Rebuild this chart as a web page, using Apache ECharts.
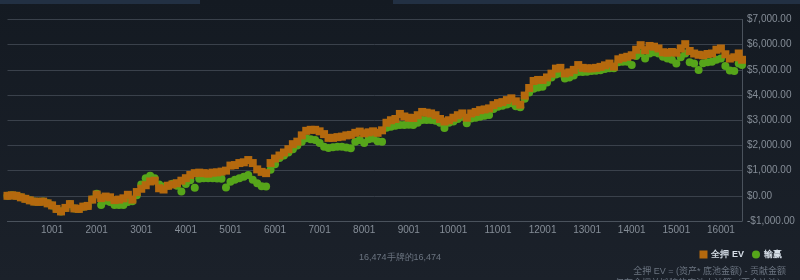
<!DOCTYPE html>
<html><head><meta charset="utf-8">
<script src="https://cdn.jsdelivr.net/npm/echarts@6/dist/echarts.min.js"></script>
<style>html,body{margin:0;padding:0;background:#171d26;}#c{width:800px;height:280px;}</style>
</head><body><div id="c"></div>
<script>
// hand numbers (sampled every 100 hands, plus the final hand)
const hands = [];
for (let h = 1; h <= 16401; h += 100) hands.push(h);
hands.push(16474);

const allInEV = [
0,20,0,-60,-120,-180,-230,-240,-230,-300,
-380,-520,-620,-480,-330,-500,-520,-430,-400,-150,
50,-90,-30,-60,-170,-150,-100,40,-150,150,
280,420,570,600,300,250,400,450,500,600,
700,830,900,920,900,880,920,930,960,1000,
1200,1220,1300,1330,1420,1300,1050,950,900,1300,
1480,1600,1720,1850,2050,2150,2400,2580,2620,2620,
2560,2450,2300,2300,2330,2350,2400,2420,2500,2550,
2480,2520,2560,2500,2600,2900,3000,3050,3250,3150,
3100,3090,3200,3330,3300,3270,3200,3050,2950,3000,
3100,3200,3270,3100,3270,3330,3400,3430,3470,3600,
3680,3720,3800,3870,3750,3620,3980,4280,4560,4600,
4600,4700,4850,5050,5080,4860,4900,5000,5190,5080,
5060,5060,5080,5120,5180,5250,5130,5420,5480,5520,
5580,5800,5980,5780,5950,5920,5850,5700,5680,5710,
5680,5850,6020,5750,5650,5600,5580,5630,5650,5800,
5850,5620,5450,5500,5650,5400
];
const winnings = [
0,20,0,-60,-120,-180,-230,-240,-230,-300,
-380,-520,-620,-480,-330,-500,-520,-430,-400,-150,
80,-360,-200,-250,-360,-360,-360,-250,-220,20,
450,700,800,700,450,370,400,480,400,170,
470,620,320,680,700,700,700,690,680,330,
560,640,700,760,830,640,500,380,370,1030,
1250,1500,1600,1720,1850,2000,2150,2290,2250,2220,
2100,1950,1900,1930,1950,1950,1920,1890,2150,2220,
2100,2250,2280,2170,2150,2700,2740,2780,2810,2810,
2820,2810,2900,3010,3010,3010,2980,2900,2690,2900,
2950,3050,3140,2880,3070,3100,3140,3180,3210,3450,
3540,3580,3630,3670,3560,3520,3850,4100,4250,4300,
4330,4500,4700,4820,4860,4660,4700,4780,4920,4920,
4930,4960,4970,4990,5030,5060,5060,5300,5320,5320,
5190,5550,5660,5450,5650,5700,5650,5520,5450,5400,
5250,5500,5650,5300,5250,5000,5260,5300,5320,5400,
5450,5150,4980,4960,5250,5190
];
const seriesNames = ['全押 EV', '输赢'];
const totalHands = 16474;
const yMin = -1000, yMax = 7000, yStep = 1000;
const xStep = 1000;
const bottomText = '16,474手牌的16,474';
const footnote1 = '全押 EV = (资产* 底池金额) - 贡献金额';
const footnote2 = '仅在全押并摊牌的底池中计算（不含边池）';

const narrow = "'Liberation Sans Narrow','Liberation Sans',Arial,sans-serif";
const chart = echarts.init(document.getElementById('c'), null, {renderer: 'canvas'});
function money(v) {
  const s = Math.abs(v).toLocaleString('en-US', {minimumFractionDigits: 2, maximumFractionDigits: 2});
  return (v < 0 ? '-$' : '$') + s;
}
chart.setOption({
  animation: false,
  backgroundColor: {type: 'linear', x: 0, y: 0, x2: 0, y2: 1,
    colorStops: [{offset: 0, color: '#141a22'}, {offset: 1, color: '#1b212a'}]},
  graphic: [
    {type: 'rect', shape: {x: 0, y: 0, width: 200, height: 4}, style: {fill: '#223043'}, silent: true},
    {type: 'rect', shape: {x: 393, y: 0, width: 407, height: 4}, style: {fill: '#223043'}, silent: true},
    {type: 'text', left: 'center', top: 253, style: {text: bottomText, fill: '#6b7480', font: '9px ' + "'Liberation Sans',sans-serif"}},
    {type: 'text', right: 14, top: 267, style: {text: footnote1, fill: '#6b7480', font: '9px ' + "'Liberation Sans','Noto Sans CJK SC',sans-serif"}},
    {type: 'text', right: 14, top: 279, style: {text: footnote2, fill: '#6b7480', font: '9px ' + "'Liberation Sans','Noto Sans CJK SC',sans-serif"}}
  ],
  legend: {
    right: 13, top: 245, itemWidth: 8, itemHeight: 8, itemGap: 8,
    data: [{name: seriesNames[0], icon: 'rect'}, {name: seriesNames[1], icon: 'circle'}],
    textStyle: {color: '#d5dde6', fontSize: 9, fontWeight: 'bold', padding: [0, 0, 0, -1]}
  },
  grid: {left: 7.5, right: 58, top: 19.5, bottom: 59, containLabel: false, outerBoundsMode: 'none'},
  xAxis: {
    type: 'value', min: 1, max: totalHands, interval: xStep,
    axisLine: {show: true, onZero: false, lineStyle: {color: '#4a525c'}},
    axisTick: {show: false},
    splitLine: {show: false},
    axisLabel: {color: '#858d97', fontSize: 10, fontFamily: narrow, margin: 4,
      showMinLabel: false, showMaxLabel: false, formatter: v => String(v)}
  },
  yAxis: {
    type: 'value', position: 'right', min: yMin, max: yMax, interval: yStep,
    axisLine: {show: true, lineStyle: {color: '#4a525c'}},
    axisTick: {show: false},
    splitLine: {lineStyle: {color: '#3a414b', width: 1}},
    axisLabel: {color: '#858d97', fontSize: 10, fontFamily: narrow, margin: 5, formatter: money}
  },
  series: [
    {name: seriesNames[0], type: 'scatter', symbol: 'rect', symbolSize: 8, z: 3,
      itemStyle: {color: '#b4690e', opacity: 1},
      data: hands.map((h, i) => [h, allInEV[i]])},
    {name: seriesNames[1], type: 'scatter', symbol: 'circle', symbolSize: 8, z: 2,
      itemStyle: {color: '#56a51a', opacity: 1},
      data: hands.map((h, i) => [h, winnings[i]])}
  ]
});
</script></body></html>
